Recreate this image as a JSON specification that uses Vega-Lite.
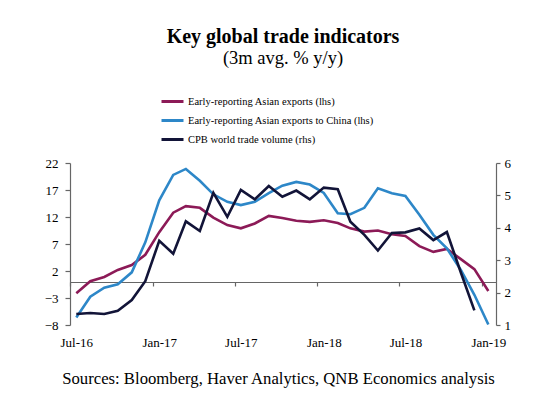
{
  "$schema": "https://vega.github.io/schema/vega-lite/v6.json",
  "width": 426,
  "height": 162,
  "autosize": "none",
  "padding": {"left": 70, "top": 163, "right": 55, "bottom": 74},
  "background": "white",
  "title": {
    "text": "Key global trade indicators",
    "subtitle": "(3m avg. % y/y)",
    "font": "Liberation Serif",
    "fontSize": 20,
    "fontWeight": "bold",
    "color": "black",
    "subtitleFont": "Liberation Serif",
    "subtitleFontSize": 18.5,
    "subtitleColor": "black",
    "subtitlePadding": 2,
    "anchor": "middle",
    "offset": 22
  },
  "datasets": {
    "lhs": [
      {"month": "2016-07-15", "series": "Early-reporting Asian exports (lhs)", "value": -2.1},
      {"month": "2016-08-15", "series": "Early-reporting Asian exports (lhs)", "value": 0.1},
      {"month": "2016-09-15", "series": "Early-reporting Asian exports (lhs)", "value": 0.9},
      {"month": "2016-10-15", "series": "Early-reporting Asian exports (lhs)", "value": 2.2},
      {"month": "2016-11-15", "series": "Early-reporting Asian exports (lhs)", "value": 3.1},
      {"month": "2016-12-15", "series": "Early-reporting Asian exports (lhs)", "value": 5.0},
      {"month": "2017-01-15", "series": "Early-reporting Asian exports (lhs)", "value": 9.2},
      {"month": "2017-02-15", "series": "Early-reporting Asian exports (lhs)", "value": 12.8},
      {"month": "2017-03-15", "series": "Early-reporting Asian exports (lhs)", "value": 14.0},
      {"month": "2017-04-15", "series": "Early-reporting Asian exports (lhs)", "value": 13.7},
      {"month": "2017-05-15", "series": "Early-reporting Asian exports (lhs)", "value": 11.9},
      {"month": "2017-06-15", "series": "Early-reporting Asian exports (lhs)", "value": 10.5},
      {"month": "2017-07-15", "series": "Early-reporting Asian exports (lhs)", "value": 9.9},
      {"month": "2017-08-15", "series": "Early-reporting Asian exports (lhs)", "value": 10.8},
      {"month": "2017-09-15", "series": "Early-reporting Asian exports (lhs)", "value": 12.2},
      {"month": "2017-10-15", "series": "Early-reporting Asian exports (lhs)", "value": 11.8},
      {"month": "2017-11-15", "series": "Early-reporting Asian exports (lhs)", "value": 11.3},
      {"month": "2017-12-15", "series": "Early-reporting Asian exports (lhs)", "value": 11.1},
      {"month": "2018-01-15", "series": "Early-reporting Asian exports (lhs)", "value": 11.4},
      {"month": "2018-02-15", "series": "Early-reporting Asian exports (lhs)", "value": 10.9},
      {"month": "2018-03-15", "series": "Early-reporting Asian exports (lhs)", "value": 9.9},
      {"month": "2018-04-15", "series": "Early-reporting Asian exports (lhs)", "value": 9.3},
      {"month": "2018-05-15", "series": "Early-reporting Asian exports (lhs)", "value": 9.5},
      {"month": "2018-06-15", "series": "Early-reporting Asian exports (lhs)", "value": 8.8},
      {"month": "2018-07-15", "series": "Early-reporting Asian exports (lhs)", "value": 8.5},
      {"month": "2018-08-15", "series": "Early-reporting Asian exports (lhs)", "value": 6.6},
      {"month": "2018-09-15", "series": "Early-reporting Asian exports (lhs)", "value": 5.55},
      {"month": "2018-10-15", "series": "Early-reporting Asian exports (lhs)", "value": 6.1},
      {"month": "2018-11-15", "series": "Early-reporting Asian exports (lhs)", "value": 4.2},
      {"month": "2018-12-15", "series": "Early-reporting Asian exports (lhs)", "value": 2.35},
      {"month": "2019-01-15", "series": "Early-reporting Asian exports (lhs)", "value": -1.7},
      {"month": "2016-07-15", "series": "Early-reporting Asian exports to China (lhs)", "value": -6.6},
      {"month": "2016-08-15", "series": "Early-reporting Asian exports to China (lhs)", "value": -2.75},
      {"month": "2016-09-15", "series": "Early-reporting Asian exports to China (lhs)", "value": -1.1},
      {"month": "2016-10-15", "series": "Early-reporting Asian exports to China (lhs)", "value": -0.45},
      {"month": "2016-11-15", "series": "Early-reporting Asian exports to China (lhs)", "value": 1.75},
      {"month": "2016-12-15", "series": "Early-reporting Asian exports to China (lhs)", "value": 7.3},
      {"month": "2017-01-15", "series": "Early-reporting Asian exports to China (lhs)", "value": 15.1},
      {"month": "2017-02-15", "series": "Early-reporting Asian exports to China (lhs)", "value": 19.8},
      {"month": "2017-03-15", "series": "Early-reporting Asian exports to China (lhs)", "value": 20.9},
      {"month": "2017-04-15", "series": "Early-reporting Asian exports to China (lhs)", "value": 18.7},
      {"month": "2017-05-15", "series": "Early-reporting Asian exports to China (lhs)", "value": 16.2},
      {"month": "2017-06-15", "series": "Early-reporting Asian exports to China (lhs)", "value": 14.8},
      {"month": "2017-07-15", "series": "Early-reporting Asian exports to China (lhs)", "value": 14.2},
      {"month": "2017-08-15", "series": "Early-reporting Asian exports to China (lhs)", "value": 14.8},
      {"month": "2017-09-15", "series": "Early-reporting Asian exports to China (lhs)", "value": 16.4},
      {"month": "2017-10-15", "series": "Early-reporting Asian exports to China (lhs)", "value": 17.8},
      {"month": "2017-11-15", "series": "Early-reporting Asian exports to China (lhs)", "value": 18.5},
      {"month": "2017-12-15", "series": "Early-reporting Asian exports to China (lhs)", "value": 18.0},
      {"month": "2018-01-15", "series": "Early-reporting Asian exports to China (lhs)", "value": 16.45},
      {"month": "2018-02-15", "series": "Early-reporting Asian exports to China (lhs)", "value": 12.7},
      {"month": "2018-03-15", "series": "Early-reporting Asian exports to China (lhs)", "value": 12.5},
      {"month": "2018-04-15", "series": "Early-reporting Asian exports to China (lhs)", "value": 13.7},
      {"month": "2018-05-15", "series": "Early-reporting Asian exports to China (lhs)", "value": 17.3},
      {"month": "2018-06-15", "series": "Early-reporting Asian exports to China (lhs)", "value": 16.4},
      {"month": "2018-07-15", "series": "Early-reporting Asian exports to China (lhs)", "value": 15.9},
      {"month": "2018-08-15", "series": "Early-reporting Asian exports to China (lhs)", "value": 12.4},
      {"month": "2018-09-15", "series": "Early-reporting Asian exports to China (lhs)", "value": 8.7},
      {"month": "2018-10-15", "series": "Early-reporting Asian exports to China (lhs)", "value": 6.2},
      {"month": "2018-11-15", "series": "Early-reporting Asian exports to China (lhs)", "value": 2.2},
      {"month": "2018-12-15", "series": "Early-reporting Asian exports to China (lhs)", "value": -2.4},
      {"month": "2019-01-15", "series": "Early-reporting Asian exports to China (lhs)", "value": -7.9}
    ],
    "rhs": [
      {"month": "2016-07-15", "series": "CPB  world trade volume (rhs)", "value": 1.34},
      {"month": "2016-08-15", "series": "CPB  world trade volume (rhs)", "value": 1.37},
      {"month": "2016-09-15", "series": "CPB  world trade volume (rhs)", "value": 1.34},
      {"month": "2016-10-15", "series": "CPB  world trade volume (rhs)", "value": 1.44},
      {"month": "2016-11-15", "series": "CPB  world trade volume (rhs)", "value": 1.77},
      {"month": "2016-12-15", "series": "CPB  world trade volume (rhs)", "value": 2.35},
      {"month": "2017-01-15", "series": "CPB  world trade volume (rhs)", "value": 3.6},
      {"month": "2017-02-15", "series": "CPB  world trade volume (rhs)", "value": 3.2},
      {"month": "2017-03-15", "series": "CPB  world trade volume (rhs)", "value": 4.2},
      {"month": "2017-04-15", "series": "CPB  world trade volume (rhs)", "value": 3.9},
      {"month": "2017-05-15", "series": "CPB  world trade volume (rhs)", "value": 5.08},
      {"month": "2017-06-15", "series": "CPB  world trade volume (rhs)", "value": 4.34},
      {"month": "2017-07-15", "series": "CPB  world trade volume (rhs)", "value": 5.17},
      {"month": "2017-08-15", "series": "CPB  world trade volume (rhs)", "value": 4.88},
      {"month": "2017-09-15", "series": "CPB  world trade volume (rhs)", "value": 5.29},
      {"month": "2017-10-15", "series": "CPB  world trade volume (rhs)", "value": 4.96},
      {"month": "2017-11-15", "series": "CPB  world trade volume (rhs)", "value": 5.15},
      {"month": "2017-12-15", "series": "CPB  world trade volume (rhs)", "value": 4.88},
      {"month": "2018-01-15", "series": "CPB  world trade volume (rhs)", "value": 5.24},
      {"month": "2018-02-15", "series": "CPB  world trade volume (rhs)", "value": 5.19},
      {"month": "2018-03-15", "series": "CPB  world trade volume (rhs)", "value": 4.19},
      {"month": "2018-04-15", "series": "CPB  world trade volume (rhs)", "value": 3.78},
      {"month": "2018-05-15", "series": "CPB  world trade volume (rhs)", "value": 3.3},
      {"month": "2018-06-15", "series": "CPB  world trade volume (rhs)", "value": 3.84},
      {"month": "2018-07-15", "series": "CPB  world trade volume (rhs)", "value": 3.86},
      {"month": "2018-08-15", "series": "CPB  world trade volume (rhs)", "value": 3.98},
      {"month": "2018-09-15", "series": "CPB  world trade volume (rhs)", "value": 3.62},
      {"month": "2018-10-15", "series": "CPB  world trade volume (rhs)", "value": 3.87},
      {"month": "2018-11-15", "series": "CPB  world trade volume (rhs)", "value": 2.62},
      {"month": "2018-12-15", "series": "CPB  world trade volume (rhs)", "value": 1.45}
    ]
  },
  "config": {
    "font": "Liberation Serif",
    "view": {"stroke": null},
    "axis": {
      "grid": false,
      "labelColor": "black",
      "labelFont": "Liberation Serif",
      "labelFontSize": 13,
      "domainColor": "#666666",
      "tickColor": "#666666",
      "domainWidth": 1.2,
      "tickWidth": 1.2
    }
  },
  "layer": [
    {
      "data": {"name": "lhs"},
      "mark": {"type": "line", "strokeWidth": 2.6},
      "encoding": {
        "x": {
          "field": "month",
          "type": "temporal",
          "scale": {"domain": [{"year": 2016, "month": 7, "date": 1}, {"year": 2019, "month": 2, "date": 1}]},
          "axis": {
            "orient": "bottom",
            "values": [
              {"year": 2016, "month": 7, "date": 15},
              {"year": 2017, "month": 1, "date": 15},
              {"year": 2017, "month": 7, "date": 15},
              {"year": 2018, "month": 1, "date": 15},
              {"year": 2018, "month": 7, "date": 15},
              {"year": 2019, "month": 1, "date": 15}
            ],
            "format": "%b-%y",
            "domain": false,
            "ticks": false,
            "tickSize": 0,
            "labelPadding": 11,
            "title": "Sources: Bloomberg, Haver Analytics, QNB Economics analysis",
            "titleFont": "Liberation Serif",
            "titleFontSize": 16.7,
            "titleFontWeight": "normal",
            "titleColor": "black",
            "titlePadding": 21,
            "titleX": 208,
            "titleAlign": "center",
            "titleAnchor": null
          }
        },
        "y": {
          "field": "value",
          "type": "quantitative",
          "scale": {"domain": [-8, 22], "nice": false, "zero": false},
          "axis": {"orient": "left", "values": [-8, -3, 2, 7, 12, 17, 22], "title": null, "tickSize": 5, "labelPadding": 7}
        },
        "color": {
          "field": "series",
          "type": "nominal",
          "scale": {
            "domain": ["Early-reporting Asian exports (lhs)", "Early-reporting Asian exports to China (lhs)", "CPB  world trade volume (rhs)"],
            "range": ["#8C1A57", "#2D87C8", "#121438"]
          },
          "legend": {
            "orient": "none",
            "legendX": 90,
            "legendY": -74,
            "direction": "vertical",
            "title": null,
            "symbolType": "stroke",
            "symbolSize": 484,
            "symbolStrokeWidth": 3,
            "labelFont": "Liberation Serif",
            "labelFontSize": 10.5,
            "labelColor": "black",
            "labelOffset": 3,
            "labelLimit": 0,
            "rowPadding": -4,
            "padding": 0
          }
        }
      }
    },
    {
      "data": {"name": "rhs"},
      "mark": {"type": "line", "strokeWidth": 2.6},
      "encoding": {
        "x": {
          "field": "month",
          "type": "temporal",
          "axis": {
            "orient": "bottom",
            "offset": -43,
            "values": [
              {"year": 2016, "month": 7, "date": 1},
              {"year": 2017, "month": 1, "date": 1},
              {"year": 2017, "month": 7, "date": 1},
              {"year": 2018, "month": 1, "date": 1},
              {"year": 2018, "month": 7, "date": 1},
              {"year": 2019, "month": 1, "date": 1}
            ],
            "labels": false,
            "ticks": true,
            "tickSize": 4,
            "domain": true,
            "title": null
          }
        },
        "y": {
          "field": "value",
          "type": "quantitative",
          "scale": {"domain": [1, 6], "nice": false, "zero": false},
          "axis": {"orient": "right", "values": [1, 2, 3, 4, 5, 6], "title": null, "tickSize": 4, "labelPadding": 4}
        },
        "color": {
          "field": "series",
          "type": "nominal",
          "scale": {
            "domain": ["Early-reporting Asian exports (lhs)", "Early-reporting Asian exports to China (lhs)", "CPB  world trade volume (rhs)"],
            "range": ["#8C1A57", "#2D87C8", "#121438"]
          },
          "legend": {
            "orient": "none",
            "legendX": 90,
            "legendY": -74,
            "direction": "vertical",
            "title": null,
            "symbolType": "stroke",
            "symbolSize": 484,
            "symbolStrokeWidth": 3,
            "labelFont": "Liberation Serif",
            "labelFontSize": 10.5,
            "labelColor": "black",
            "labelOffset": 3,
            "labelLimit": 0,
            "rowPadding": -4,
            "padding": 0
          }
        }
      }
    }
  ],
  "resolve": {"scale": {"y": "independent"}, "axis": {"x": "independent"}}
}
